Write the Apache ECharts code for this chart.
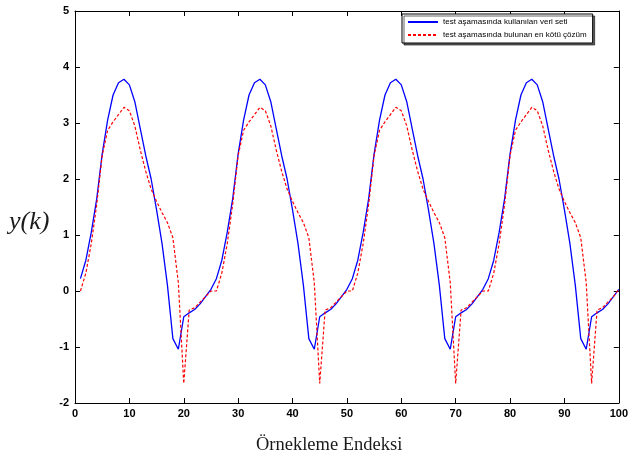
<!DOCTYPE html>
<html>
<head>
<meta charset="utf-8">
<script src="https://cdn.jsdelivr.net/npm/echarts@6/dist/echarts.min.js"></script>
<style>
html,body{margin:0;padding:0;background:#fff;}
#chart{width:631px;height:463px;}
</style>
</head>
<body>
<div id="chart"></div>
<script>
// y(k) values, k = 1..100
var veriSeti = [
    0.22, 0.55, 1.05, 1.65, 2.45, 3.05, 3.50, 3.72, 3.78, 3.68, 3.38, 2.90, 2.42, 2.00, 1.45, 0.85, 0.10, -0.85, -1.04, -0.46, -0.39, -0.33, -0.23, -0.10, 0.03,
    0.22, 0.55, 1.05, 1.65, 2.45, 3.05, 3.50, 3.72, 3.78, 3.68, 3.38, 2.90, 2.42, 2.00, 1.45, 0.85, 0.10, -0.85, -1.04, -0.46, -0.39, -0.33, -0.23, -0.10, 0.03,
    0.22, 0.55, 1.05, 1.65, 2.45, 3.05, 3.50, 3.72, 3.78, 3.68, 3.38, 2.90, 2.42, 2.00, 1.45, 0.85, 0.10, -0.85, -1.04, -0.46, -0.39, -0.33, -0.23, -0.10, 0.03,
    0.22, 0.55, 1.05, 1.65, 2.45, 3.05, 3.50, 3.72, 3.78, 3.68, 3.38, 2.90, 2.42, 2.00, 1.45, 0.85, 0.10, -0.85, -1.04, -0.46, -0.39, -0.33, -0.23, -0.10, 0.03
];
var kotuCozum = [
    0.00, 0.32, 0.85, 1.55, 2.42, 2.87, 3.02, 3.15, 3.28, 3.22, 2.95, 2.52, 2.14, 1.82, 1.60, 1.40, 1.22, 0.95, 0.15, -1.65, -0.34, -0.30, -0.20, -0.10, 0.00,
    0.00, 0.32, 0.85, 1.55, 2.42, 2.87, 3.02, 3.15, 3.28, 3.22, 2.95, 2.52, 2.14, 1.82, 1.60, 1.40, 1.22, 0.95, 0.15, -1.65, -0.34, -0.30, -0.20, -0.10, 0.00,
    0.00, 0.32, 0.85, 1.55, 2.42, 2.87, 3.02, 3.15, 3.28, 3.22, 2.95, 2.52, 2.14, 1.82, 1.60, 1.40, 1.22, 0.95, 0.15, -1.65, -0.34, -0.30, -0.20, -0.10, 0.00,
    0.00, 0.32, 0.85, 1.55, 2.42, 2.87, 3.02, 3.15, 3.28, 3.22, 2.95, 2.52, 2.14, 1.82, 1.60, 1.40, 1.22, 0.95, 0.15, -1.65, -0.34, -0.30, -0.20, -0.10, 0.03
];
var seriesNames = ['test aşamasında kullanılan veri seti', 'test aşamasında bulunan en kötü çözüm'];
var xTicks = [0, 10, 20, 30, 40, 50, 60, 70, 80, 90, 100];
var yTicks = [-2, -1, 0, 1, 2, 3, 4, 5];

function toPairs(arr) {
    var out = [];
    for (var i = 0; i < arr.length; i++) {
        out.push([i + 1, arr[i]]);
    }
    return out;
}

var tickFont = {color: '#000', fontFamily: 'Liberation Sans, Arial', fontWeight: 'bold', fontSize: 11};
var axisLine = {show: true, onZero: false, lineStyle: {color: '#000', width: 1}};
var inTick = {show: true, inside: true, length: 5, lineStyle: {color: '#000'}};

var myChart = echarts.init(document.getElementById('chart'), null, {renderer: 'canvas'});
var option = {
    animation: false,
    backgroundColor: '#fff',
    grid: {left: 75, right: 9, top: 11, bottom: 60},
    legend: {
        show: true,
        orient: 'vertical',
        left: 402,
        top: 14,
        width: 214,
        padding: [4, 6, 4, 5],
        itemGap: 5,
        itemWidth: 30,
        itemHeight: 8,
        backgroundColor: '#fff',
        borderColor: '#000',
        borderWidth: 1,
        shadowColor: 'rgba(0,0,0,0.6)',
        shadowOffsetX: 2,
        shadowOffsetY: 2,
        itemStyle: {opacity: 0},
        textStyle: {color: '#000', fontFamily: 'Liberation Sans, Arial', fontSize: 8},
        data: seriesNames
    },
    xAxis: [{
        type: 'value',
        min: xTicks[0],
        max: xTicks[xTicks.length - 1],
        interval: 10,
        axisLine: axisLine,
        axisTick: inTick,
        axisLabel: Object.assign({margin: 5}, tickFont),
        splitLine: {show: false}
    }, {
        type: 'value',
        position: 'top',
        min: xTicks[0],
        max: xTicks[xTicks.length - 1],
        interval: 10,
        axisLine: axisLine,
        axisTick: inTick,
        axisLabel: {show: false},
        splitLine: {show: false}
    }],
    yAxis: [{
        type: 'value',
        min: yTicks[0],
        max: yTicks[yTicks.length - 1],
        interval: 1,
        axisLine: axisLine,
        axisTick: inTick,
        axisLabel: Object.assign({margin: 6}, tickFont),
        splitLine: {show: false}
    }, {
        type: 'value',
        position: 'right',
        min: yTicks[0],
        max: yTicks[yTicks.length - 1],
        interval: 1,
        axisLine: axisLine,
        axisTick: inTick,
        axisLabel: {show: false},
        splitLine: {show: false}
    }],
    graphic: [{
        type: 'text',
        left: 9,
        top: 209,
        style: {text: 'y(k)', fill: '#1a1a1a', font: 'italic 26px "Liberation Serif", "DejaVu Serif", serif'}
    }, {
        type: 'text',
        left: 256,
        top: 436,
        style: {text: 'Örnekleme Endeksi', fill: '#1a1a1a', font: '18.5px "Liberation Serif", "DejaVu Serif", serif'}
    }],
    series: [{
        name: seriesNames[0],
        type: 'line',
        data: toPairs(veriSeti),
        showSymbol: false,
        symbol: 'none',
        lineStyle: {color: '#0000ff', width: 1.3},
        itemStyle: {color: '#0000ff'}
    }, {
        name: seriesNames[1],
        type: 'line',
        data: toPairs(kotuCozum),
        showSymbol: false,
        symbol: 'none',
        lineStyle: {color: '#ff0000', width: 1.2, type: [3, 2]},
        itemStyle: {color: '#ff0000'}
    }]
};
myChart.setOption(option);
</script>
</body>
</html>
